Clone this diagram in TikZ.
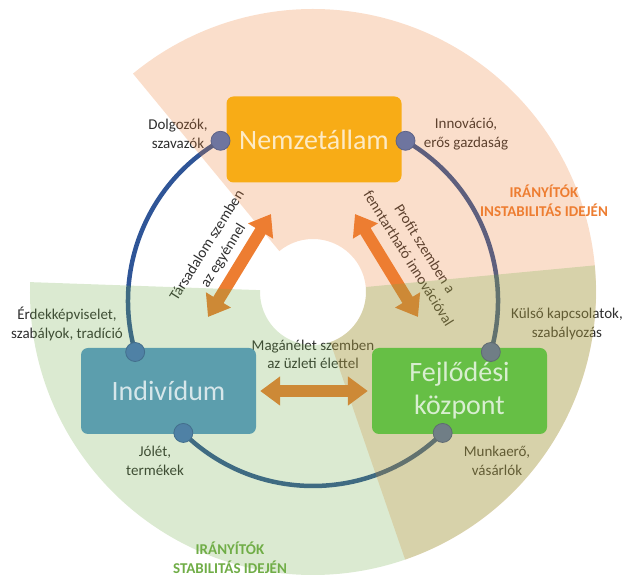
\documentclass[tikz,border=0pt]{standalone}
\usepackage{fontspec}
\setmainfont{Carlito}
\usetikzlibrary{arrows.meta,calc}
\pgfdeclarelayer{under}
\pgfdeclarelayer{tint}
\pgfdeclarelayer{top}
\pgfsetlayers{under,tint,main,top}
\definecolor{accOrange}{HTML}{ED7D31}
\definecolor{accGreen}{HTML}{70AD47}
\definecolor{arcBlue}{HTML}{2F5597}
\definecolor{boxGold}{RGB}{248,172,22}
\definecolor{boxTeal}{RGB}{92,158,173}
\definecolor{boxGreen}{RGB}{102,191,69}
\definecolor{dotPeach}{RGB}{110,117,159}
\definecolor{dotGreen}{RGB}{79,129,165}
\definecolor{dotTan}{RGB}{112,126,134}
\definecolor{labelText}{HTML}{2E2E2E}
\begin{document}
\begin{tikzpicture}[x=1pt,y=1pt,
  myLbl/.style={font=\fontsize{15}{18.5}\selectfont, text=labelText, align=center, inner sep=0pt},
  myRot/.style={font=\fontsize{15}{19}\selectfont, text=labelText, align=center, inner sep=0pt},
  myCtl/.style={font=\fontsize{15}{18.5}\selectfont\bfseries, align=center, inner sep=0pt},
  myBox/.style={rounded corners=7pt, minimum width=175pt, minimum height=86pt, inner sep=0pt,
    align=center, font=\fontsize{28}{33}\selectfont, text=white, text opacity=0.75},
  myLink/.style={draw=arcBlue, line width=4.5pt},
  myDot/.style={circle, minimum size=19pt, inner sep=0pt, line width=0.8pt},
  myArrow/.style={draw=accOrange, line width=12pt,
    {Triangle[width=28pt,length=20pt]}-{Triangle[width=28pt,length=20pt]}},
  mySector/.style={fill opacity=0.25}
]
\useasboundingbox (0,0) rectangle (623,575);
\clip (0,0) rectangle (623,575);
\coordinate (O) at (313,283);
\coordinate (A) at (313,274);
\coordinate (p1) at ($(A)+(120:185)$);
\coordinate (p2) at ($(A)+(60:185)$);
\coordinate (p3) at ($(A)+(196:185)$);
\coordinate (p4) at ($(A)+(225.5:185)$);
\coordinate (p5) at ($(A)+(314.5:185)$);
\coordinate (p6) at ($(A)+(-16:185)$);

% boxes
\node[myBox, fill=boxGold] (nem) at (314,435.5) {Nemzetállam};
\node[myBox, fill=boxTeal] (ind) at (168.5,184) {Indivídum};
\node[myBox, fill=boxGreen] (fej) at (459.5,184) {Fejlődési\\központ};

\begin{pgfonlayer}{under}
  % connectors (arcs)
  \draw[myLink] (p1) arc[start angle=120, end angle=196, radius=185];
  \draw[myLink] (p2) arc[start angle=60, end angle=-16, radius=185];
  \draw[myLink] (p4) arc[start angle=225.5, end angle=314.5, radius=185];
  % double arrows
  \coordinate (la1) at (208,258);
  \coordinate (la2) at (271,361);
  \coordinate (ra1) at (418,258);
  \coordinate (ra2) at (355,361);
  \draw[myArrow] (la1) -- (la2);
  \draw[myArrow] (ra1) -- (ra2);
  \draw[myArrow] ([xshift=4pt]ind.east) -- ([xshift=-4pt]fej.west);
  % labels
  \node[myLbl] (l1) at (178,441) {Dolgozók,\\szavazók};
  \node[myLbl] (l2) at (466,441) {Innováció,\\erős gazdaság};
  \node[myLbl] (l3) at (67,251) {Érdekképviselet,\\szabályok, tradíció};
  \node[myLbl] (l4) at (567,251) {Külső kapcsolatok,\\szabályozás};
  \node[myLbl] (l5) at (155,114) {Jólét,\\termékek};
  \node[myLbl] (l6) at (497,114) {Munkaerő,\\vásárlók};
  \node[myLbl] (l7) at (313,220.5) {Magánélet szemben\\az üzleti élettel};
  \node[myRot, rotate=58] (l8) at (215.5,324) {Társadalom szemben\\az egyénnel};
  \node[myRot, rotate=-58] (l9) at (417,321.5) {Profit szemben a\\fenntartható innovációval};
  \node[myCtl, text=accOrange] (t1) at (544,374) {IRÁNYÍTÓK\\INSTABILITÁS IDEJÉN};
  \node[myCtl, text=accGreen] (t2) at (230,17) {IRÁNYÍTÓK\\STABILITÁS IDEJÉN};
\end{pgfonlayer}

\begin{pgfonlayer}{tint}
  \fill[accOrange, mySector] ($(O)+(-71:53)$) -- ($(O)+(-71:283)$)
      arc[start angle=-71, end angle=129.5, radius=283]
      -- ($(O)+(129.5:53)$) arc[start angle=129.5, end angle=-71, radius=53] -- cycle;
  \fill[accGreen, mySector] ($(O)+(178:53)$) -- ($(O)+(178:283)$)
      arc[start angle=178, end angle=365.4, radius=283]
      -- ($(O)+(365.4:53)$) arc[start angle=365.4, end angle=178, radius=53] -- cycle;
\end{pgfonlayer}

\begin{pgfonlayer}{top}
  \node[myDot, fill=dotPeach, draw=dotPeach!85!black] (d1) at (p1) {};
  \node[myDot, fill=dotPeach, draw=dotPeach!85!black] (d2) at (p2) {};
  \node[myDot, fill=dotGreen, draw=dotGreen!85!black] (d3) at (p3) {};
  \node[myDot, fill=dotGreen, draw=dotGreen!85!black] (d4) at (p4) {};
  \node[myDot, fill=dotTan, draw=dotTan!85!black] (d5) at (p5) {};
  \node[myDot, fill=dotTan, draw=dotTan!85!black] (d6) at (p6) {};
\end{pgfonlayer}
\end{tikzpicture}
\end{document}
